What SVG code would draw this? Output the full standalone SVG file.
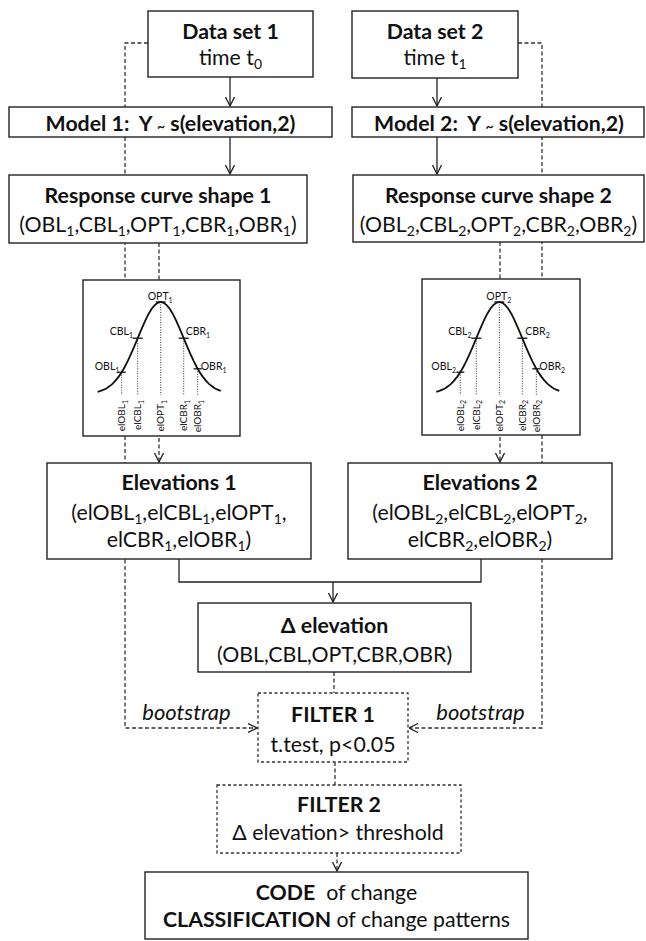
<svg xmlns="http://www.w3.org/2000/svg" width="646" height="941" viewBox="0 0 646 941">
<style>
  text { font-family: Lato, "Open Sans", "Liberation Sans", sans-serif; fill: #111; white-space: pre; }
  .t { font-size: 21.3px; text-anchor: middle; }
  .b { font-weight: bold; }
  .it { font-style: italic; font-size: 22px; }
  .s { font-size: 14px; }
  .box { fill: #fff; stroke: #222; stroke-width: 1.4; }
  .dbox { fill: #fff; stroke: #333; stroke-width: 1.3; stroke-dasharray: 3 2.5; }
  .con { fill: none; stroke: #222; stroke-width: 1.3; }
  .dcon { fill: none; stroke: #333; stroke-width: 1.3; stroke-dasharray: 4 2.5; }
  .curve { fill: none; stroke: #111; stroke-width: 1.8; }
  .tick { stroke: #111; stroke-width: 1.3; }
  .dot { stroke: #333; stroke-width: 1; stroke-dasharray: 1 1.5; }
  .cl { font-size: 10.5px; }
  .rl { font-size: 10px; text-anchor: end; }
</style>
<defs>
  <marker id="arr" viewBox="0 0 10 10" refX="9.5" refY="5" markerWidth="10" markerHeight="10" markerUnits="userSpaceOnUse" orient="auto">
    <path d="M0.5,0.5 L9.5,5 L0.5,9.5" fill="none" stroke="#222" stroke-width="1.3"/>
  </marker>
  <path id="gauss" class="curve" d="M-63,391.8 L-60,390.9 L-57,389.7 L-54,388.2 L-51,386.1 L-48,383.6 L-45,380.4 L-42,376.6 L-39,372.2 L-36,367.0 L-33,361.1 L-30,354.7 L-27,347.8 L-24,340.6 L-21,333.4 L-18,326.3 L-15,319.6 L-12,313.7 L-9,308.8 L-6,305.1 L-3,302.8 L0,302 L3,302.8 L6,305.1 L9,308.8 L12,313.7 L15,319.6 L18,326.3 L21,333.4 L24,340.6 L27,347.8 L30,354.7 L33,361.1 L36,367.0 L39,372.2 L42,376.6 L45,380.4 L48,383.6 L51,386.1 L54,388.2 L57,389.7 L60,390.9"/>
  <g id="marks">
    <line class="dot" x1="-39" y1="372.2" x2="-39" y2="395"/>
    <line class="dot" x1="-23" y1="338.2" x2="-23" y2="395"/>
    <line class="dot" x1="0" y1="302" x2="0" y2="395"/>
    <line class="dot" x1="23" y1="338.2" x2="23" y2="395"/>
    <line class="dot" x1="37" y1="368.8" x2="37" y2="395"/>
    <line class="tick" x1="-43" y1="372.2" x2="-35" y2="372.2"/>
    <line class="tick" x1="-28" y1="338.2" x2="-18" y2="338.2"/>
    <line class="tick" x1="-5" y1="302" x2="5" y2="302"/>
    <line class="tick" x1="18" y1="338.2" x2="28" y2="338.2"/>
    <line class="tick" x1="33" y1="368.8" x2="41" y2="368.8"/>
  </g>
</defs>

<g id="connectors">
  <path class="dcon" d="M148,43 H125 V728 H257" marker-end="url(#arr)"/>
  <path class="dcon" d="M518,43 H542 V728 H409" marker-end="url(#arr)"/>
  <path class="con" d="M230,77 V106" marker-end="url(#arr)"/>
  <path class="con" d="M230,137 V174" marker-end="url(#arr)"/>
  <path class="con" d="M437,78 V106" marker-end="url(#arr)"/>
  <path class="con" d="M437,137 V174" marker-end="url(#arr)"/>
  <path class="dcon" d="M159,243 V462" marker-end="url(#arr)"/>
  <path class="dcon" d="M500,242 V462" marker-end="url(#arr)"/>
  <path class="con" d="M179,559 V582 H481 V559"/>
  <path class="con" d="M333,582 V602" marker-end="url(#arr)"/>
  <path class="dcon" d="M334,672 V693"/>
  <path class="dcon" d="M335,762 V785"/>
  <path class="dcon" d="M337,853 V871" marker-end="url(#arr)"/>
  <text class="t it" x="186.5" y="720">bootstrap</text>
  <text class="t it" x="480.5" y="720">bootstrap</text>
</g>

<g id="dataset1">
  <rect class="box" x="148" y="11" width="165" height="66"/>
  <text class="t b" x="230.5" y="39">Data set 1</text>
  <text class="t" x="230.5" y="65">time t<tspan dy="4" class="s">0</tspan></text>
</g>
<g id="dataset2">
  <rect class="box" x="352" y="11" width="166" height="67"/>
  <text class="t b" x="435" y="39">Data set 2</text>
  <text class="t" x="435" y="65">time t<tspan dy="4" class="s">1</tspan></text>
</g>

<g id="model1">
  <rect class="box" x="9" y="107" width="323" height="30"/>
  <text class="t b" x="170.5" y="131">Model 1:  Y <tspan font-size="14">~</tspan> s(elevation,2)</text>
</g>
<g id="model2">
  <rect class="box" x="352" y="107" width="292" height="30"/>
  <text class="t b" x="499" y="131">Model 2:  Y <tspan font-size="14">~</tspan> s(elevation,2)</text>
</g>

<g id="response1">
  <rect class="box" x="9" y="175" width="298" height="68"/>
  <text class="t b" x="158" y="203">Response curve shape 1</text>
  <text class="t" x="158" y="232">(OBL<tspan dy="4" class="s">1</tspan><tspan dy="-4">,CBL</tspan><tspan dy="4" class="s">1</tspan><tspan dy="-4">,OPT</tspan><tspan dy="4" class="s">1</tspan><tspan dy="-4">,CBR</tspan><tspan dy="4" class="s">1</tspan><tspan dy="-4">,OBR</tspan><tspan dy="4" class="s">1</tspan><tspan dy="-4">)</tspan></text>
</g>
<g id="response2">
  <rect class="box" x="353" y="175" width="291" height="67"/>
  <text class="t b" x="498.5" y="203">Response curve shape 2</text>
  <text class="t" x="498.5" y="232">(OBL<tspan dy="4" class="s">2</tspan><tspan dy="-4">,CBL</tspan><tspan dy="4" class="s">2</tspan><tspan dy="-4">,OPT</tspan><tspan dy="4" class="s">2</tspan><tspan dy="-4">,CBR</tspan><tspan dy="4" class="s">2</tspan><tspan dy="-4">,OBR</tspan><tspan dy="4" class="s">2</tspan><tspan dy="-4">)</tspan></text>
</g>

<g id="curve1">
  <rect class="box" x="83" y="280" width="157" height="156"/>
  <g transform="translate(160.7,0)">
    <use href="#gauss"/>
    <use href="#marks"/>
    <text class="cl" x="-13" y="300">OPT<tspan dy="3" font-size="7">1</tspan></text>
    <text class="cl" x="-51" y="335">CBL<tspan dy="3" font-size="7">1</tspan></text>
    <text class="cl" x="25" y="335">CBR<tspan dy="3" font-size="7">1</tspan></text>
    <text class="cl" x="-66" y="370">OBL<tspan dy="3" font-size="7">1</tspan></text>
    <text class="cl" x="40" y="370">OBR<tspan dy="3" font-size="7">1</tspan></text>
    <text class="rl" transform="translate(-35.5,400) rotate(-90)">elOBL<tspan dy="2.5" font-size="7">1</tspan></text>
    <text class="rl" transform="translate(-19.5,400) rotate(-90)">elCBL<tspan dy="2.5" font-size="7">1</tspan></text>
    <text class="rl" transform="translate(3.5,400) rotate(-90)">elOPT<tspan dy="2.5" font-size="7">1</tspan></text>
    <text class="rl" transform="translate(26.5,400) rotate(-90)">elCBR<tspan dy="2.5" font-size="7">1</tspan></text>
    <text class="rl" transform="translate(40.5,400) rotate(-90)">elOBR<tspan dy="2.5" font-size="7">1</tspan></text>
  </g>
</g>
<g id="curve2">
  <rect class="box" x="422" y="279" width="158" height="156"/>
  <g transform="translate(499.3,0)">
    <use href="#gauss"/>
    <use href="#marks"/>
    <text class="cl" x="-13" y="300">OPT<tspan dy="3" font-size="7">2</tspan></text>
    <text class="cl" x="-51" y="335">CBL<tspan dy="3" font-size="7">2</tspan></text>
    <text class="cl" x="26" y="335">CBR<tspan dy="3" font-size="7">2</tspan></text>
    <text class="cl" x="-68" y="370">OBL<tspan dy="3" font-size="7">2</tspan></text>
    <text class="cl" x="40" y="370">OBR<tspan dy="3" font-size="7">2</tspan></text>
    <text class="rl" transform="translate(-35.5,400) rotate(-90)">elOBL<tspan dy="2.5" font-size="7">2</tspan></text>
    <text class="rl" transform="translate(-19.5,400) rotate(-90)">elCBL<tspan dy="2.5" font-size="7">2</tspan></text>
    <text class="rl" transform="translate(3.5,400) rotate(-90)">elOPT<tspan dy="2.5" font-size="7">2</tspan></text>
    <text class="rl" transform="translate(26.5,400) rotate(-90)">elCBR<tspan dy="2.5" font-size="7">2</tspan></text>
    <text class="rl" transform="translate(40.5,400) rotate(-90)">elOBR<tspan dy="2.5" font-size="7">2</tspan></text>
  </g>
</g>

<g id="elevations1">
  <rect class="box" x="47" y="463" width="264" height="96"/>
  <text class="t b" x="179" y="490">Elevations 1</text>
  <text class="t" x="179" y="520">(elOBL<tspan dy="4" class="s">1</tspan><tspan dy="-4">,elCBL</tspan><tspan dy="4" class="s">1</tspan><tspan dy="-4">,elOPT</tspan><tspan dy="4" class="s">1</tspan><tspan dy="-4">,</tspan></text>
  <text class="t" x="179" y="547">elCBR<tspan dy="4" class="s">1</tspan><tspan dy="-4">,elOBR</tspan><tspan dy="4" class="s">1</tspan><tspan dy="-4">)</tspan></text>
</g>
<g id="elevations2">
  <rect class="box" x="348" y="463" width="264" height="96"/>
  <text class="t b" x="480" y="490">Elevations 2</text>
  <text class="t" x="480" y="520">(elOBL<tspan dy="4" class="s">2</tspan><tspan dy="-4">,elCBL</tspan><tspan dy="4" class="s">2</tspan><tspan dy="-4">,elOPT</tspan><tspan dy="4" class="s">2</tspan><tspan dy="-4">,</tspan></text>
  <text class="t" x="480" y="547">elCBR<tspan dy="4" class="s">2</tspan><tspan dy="-4">,elOBR</tspan><tspan dy="4" class="s">2</tspan><tspan dy="-4">)</tspan></text>
</g>

<g id="delta">
  <rect class="box" x="198" y="603" width="273" height="69"/>
  <text class="t b" x="334.5" y="633">Δ elevation</text>
  <text class="t" x="334.5" y="662">(OBL,CBL,OPT,CBR,OBR)</text>
</g>

<g id="filter1">
  <rect class="dbox" x="258" y="693" width="150" height="69"/>
  <text class="t b" x="333" y="722">FILTER 1</text>
  <text class="t" x="333" y="752">t.test, p&lt;0.05</text>
</g>

<g id="filter2">
  <rect class="dbox" x="217" y="785" width="244" height="68"/>
  <text class="t b" x="339" y="812">FILTER 2</text>
  <text class="t" x="338" y="840">Δ elevation&gt; threshold</text>
</g>

<g id="code">
  <rect class="box" x="145" y="872" width="383" height="67"/>
  <text class="t" x="336.5" y="900"><tspan class="b">CODE</tspan>  of change</text>
  <text class="t" x="336.5" y="927"><tspan class="b">CLASSIFICATION</tspan> of change patterns</text>
</g>
</svg>
